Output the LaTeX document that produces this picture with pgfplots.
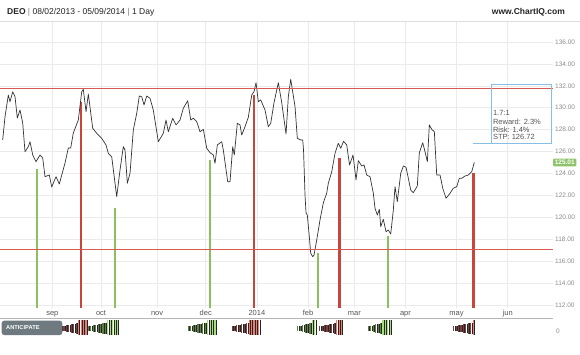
\documentclass[border=0pt]{standalone}
\usepackage{pgfplots}
\pgfplotsset{compat=1.18}
\usepackage{pgfplotstable}
\usepackage{fontspec}
\setmainfont{Liberation Sans}

\definecolor{pricec}{HTML}{333333}
\definecolor{gridc}{HTML}{EBEBEB}
\definecolor{hred}{HTML}{DA5A52}
\definecolor{vred}{HTML}{C8453C}
\definecolor{vgreen}{HTML}{8CBF5F}
\definecolor{boxc}{HTML}{88BEE2}
\definecolor{labc}{HTML}{8A8A8A}
\definecolor{monthc}{HTML}{555555}
\definecolor{pricelab}{HTML}{8DC46A}
\definecolor{btnc}{HTML}{6E7A80}
\definecolor{sepc}{HTML}{B5B5B5}
\definecolor{topc}{HTML}{DDDDDD}
\definecolor{rdark}{HTML}{7A4040}
\definecolor{rlight}{HTML}{F07A70}
\definecolor{gdark}{HTML}{5E7F48}
\definecolor{glight}{HTML}{A6E07C}
\definecolor{titlec}{HTML}{222222}

\pgfplotstableread{
x b l
25 23.30 4.50
26 22.75 5.58
27 22.20 6.67
28 21.65 7.75
29 21.10 8.83
30 20.55 9.92
31 20.00 11.00
95 23.30 4.50
96 22.75 5.58
97 22.20 6.67
98 21.65 7.75
99 21.10 8.83
100 20.55 9.92
101 20.00 11.00
131 23.30 4.50
132 22.75 5.58
133 22.20 6.67
134 21.65 7.75
135 21.10 8.83
136 20.55 9.92
137 20.00 11.00
186 23.30 4.50
187 22.83 5.43
188 22.36 6.36
189 21.89 7.29
190 21.41 8.21
191 20.94 9.14
192 20.47 10.07
193 20.00 11.00
}\redDark

\pgfplotstableread{
x b l
32 19 15
33 19 15
34 19 15
35 19 15
102 19 15
103 19 15
104 19 15
105 19 15
106 19 15
138 19 15
139 19 15
140 19 15
194 19 15
}\redLight

\pgfplotstableread{
x b l
36 23.30 4.50
37 22.83 5.43
38 22.36 6.36
39 21.89 7.29
40 21.41 8.21
41 20.94 9.14
42 20.47 10.07
43 20.00 11.00
77 23.30 4.50
78 22.83 5.43
79 22.36 6.36
80 21.89 7.29
81 21.41 8.21
82 20.94 9.14
83 20.47 10.07
84 20.00 11.00
122 23.30 4.50
123 22.64 5.80
124 21.98 7.10
125 21.32 8.40
126 20.66 9.70
127 20.00 11.00
151 23.30 4.50
152 22.64 5.80
153 21.98 7.10
154 21.32 8.40
155 20.66 9.70
156 20.00 11.00
}\greenDark

\pgfplotstableread{
x b l
44 19 15
45 19 15
46 19 15
47 19 15
48 19 15
85 19 15
86 19 15
87 19 15
88 19 15
128 19 15
129 19 15
157 19 15
158 19 15
159 19 15
160 19 15
}\greenLight

\begin{document}
\begin{tikzpicture}[x=1pt,y=1pt]
\useasboundingbox (0,0) rectangle (580,354);

% header
\node[anchor=base west, inner sep=0pt, font=\fontsize{8.5}{10}\selectfont, text=titlec] at (7,339)
  {\textbf{DEO} {\color{gray}|} 08/02/2013 - 05/09/2014 {\color{gray}|} 1 Day};
\node[anchor=base east, inner sep=0pt, font=\fontsize{8.5}{10}\selectfont\bfseries, text=titlec] at (565,339)
  {www.ChartIQ.com};

\begin{axis}[
  at={(0pt,332.5pt)}, anchor=north west, scale only axis,
  width=553pt, height=286.5pt,
  xmin=-0.5, xmax=226.6, ymin=111.725, ymax=137.87,
  axis line style={draw=none}, major tick length=0pt,
  clip mode=individual,
  grid=major, grid style={gridc, line width=0.6pt},
  xtick={21,41,64,84,105,126,145,166,187,208},
  xticklabels={sep,oct,nov,dec,2014,feb,mar,apr,may,jun},
  xticklabel style={font=\fontsize{7.5}{8}\selectfont, text=monthc, anchor=base, inner sep=0pt, yshift=-7.7pt},
  ytick={112,114,116,118,120,122,124,126,128,130,132,134,136},
  yticklabel pos=right,
  yticklabel style={font=\fontsize{6.5}{7}\selectfont, text=labc, anchor=west, inner sep=0pt, xshift=2pt,
    /pgf/number format/.cd, fixed, fixed zerofill, precision=2, assume math mode=true},
]
% signal bars
\addplot[vgreen, line width=2.2pt, ycomb] coordinates {
 (14.58,124.38) (46.73,120.82) (85.75,125.23) (129.98,116.72) (158.97,118.30)};
\addplot[vred, line width=2.4pt, ycomb] coordinates {
 (32.65,130.55) (103.82,131.16) (138.85,125.44) (193.88,124.02)};
% price
\addplot[pricec, line width=0.7pt, line join=round] coordinates {
(0.6,127.06)(1.56,129.18)(2.92,131.16)(3.61,130.55)(4.72,131.46)(5.67,131.01)(6.61,129.06)(7.72,129.79)(8.83,128.61)(9.77,125.99)(11.13,126.45)(11.83,126.90)(12.94,125.69)(14.29,125.08)(15.93,125.69)(17.04,125.41)(17.99,123.71)(19.75,123.86)(20.74,122.77)(22.51,123.71)(23.86,123.04)(26.20,124.96)(27.56,126.33)(28.54,126.33)(29.61,127.70)(31.66,128.88)(33.06,131.46)(33.72,131.68)(34.83,129.64)(35.77,131.25)(37.58,128.12)(39.22,127.67)(41.27,127.21)(43.04,126.60)(43.98,125.84)(45.38,125.53)(47.43,121.88)(48.79,124.32)(50.14,126.45)(50.84,126.14)(51.79,123.11)(52.90,124.02)(54.25,127.97)(55.65,129.49)(56.71,131.07)(57.70,131.01)(58.64,130.25)(59.75,131.07)(61.11,130.86)(62.46,129.79)(64.52,126.90)(66.57,127.67)(67.68,128.88)(68.62,127.81)(70.43,129.04)(71.79,128.43)(73.43,128.88)(74.78,129.95)(76.59,130.64)(77.82,128.88)(78.89,129.04)(80.29,128.73)(81.64,127.81)(83.00,128.03)(84.39,126.30)(85.75,125.90)(87.10,125.69)(87.80,124.93)(88.75,126.60)(90.55,126.90)(91.21,126.14)(93.02,123.25)(93.96,123.25)(95.07,126.45)(95.73,125.69)(96.96,128.58)(98.07,128.43)(98.77,127.51)(100.12,128.27)(101.48,129.13)(102.87,131.16)(103.82,131.46)(104.64,132.29)(105.59,130.55)(106.57,130.71)(108.34,129.79)(109.69,128.27)(110.68,128.58)(112.03,130.46)(112.86,131.32)(113.80,132.29)(115.20,130.46)(116.96,127.60)(117.91,131.01)(118.89,132.60)(120.66,130.10)(121.60,127.21)(123.00,127.06)(123.82,127.06)(124.15,126.14)(124.76,122.04)(125.17,120.40)(125.70,120.21)(126.53,118.23)(127.10,116.72)(127.93,116.41)(128.46,116.56)(129.57,117.93)(130.92,119.76)(132.28,121.31)(133.68,122.22)(134.33,123.11)(135.73,124.16)(137.08,125.84)(138.44,126.76)(139.42,126.30)(140.57,126.94)(141.89,126.60)(143.04,124.78)(144.48,125.69)(145.71,123.41)(146.65,125.17)(148.05,124.68)(149.00,124.78)(150.10,123.86)(151.46,123.71)(152.81,122.19)(153.51,120.82)(154.46,120.21)(155.28,120.73)(155.85,119.15)(156.92,119.82)(158.03,118.69)(158.97,118.84)(159.96,118.48)(161.03,120.67)(161.72,122.80)(162.66,121.43)(164.07,124.02)(165.13,124.68)(166.24,124.57)(167.19,123.56)(168.17,122.49)(169.24,122.25)(170.88,122.86)(171.70,125.90)(173.10,126.81)(174.04,125.99)(175.00,125.08)(175.81,128.43)(176.80,128.03)(177.87,127.81)(178.85,123.86)(180.21,123.86)(181.31,122.65)(182.67,121.74)(184.31,122.19)(185.67,122.65)(187.06,122.80)(188.13,123.56)(189.12,123.56)(190.47,123.77)(191.83,123.86)(193.22,124.16)(194.29,125.01)};
% horizontal levels
\addplot[hred, line width=1pt] coordinates {(-0.5,131.8) (226.6,131.8)};
\addplot[hred, line width=1pt] coordinates {(-0.5,117.1) (226.6,117.1)};
% reward/risk box
\draw[boxc, line width=0.8pt] (axis cs:193.8,126.72) -- (axis cs:225.8,126.72) -- (axis cs:225.8,132.14)
   -- (axis cs:201.2,132.14) -- (axis cs:201.2,126.72);
\node[anchor=west, inner sep=0pt, font=\fontsize{7.5}{8}\selectfont, text=monthc] at (axis cs:201.9,129.49) {1.7:1};
\node[anchor=west, inner sep=0pt, font=\fontsize{7.5}{8}\selectfont, text=monthc] at (axis cs:201.9,128.73) {Reward: 2.3\%};
\node[anchor=west, inner sep=0pt, font=\fontsize{7.5}{8}\selectfont, text=monthc] at (axis cs:201.9,128.03) {Risk: 1.4\%};
\node[anchor=west, inner sep=0pt, font=\fontsize{7.5}{8}\selectfont, text=monthc] at (axis cs:201.9,127.36) {STP: 126.72};
% last price label
\node[anchor=west, fill=pricelab, text=white, rounded corners=1pt, inner xsep=1.6pt, inner ysep=1.6pt,
  font=\fontsize{6.5}{7}\selectfont\bfseries] at (axis cs:226.6,125.01) {125.01};
\end{axis}
\draw[topc, line width=0.6pt] (0,332.5) -- (580,332.5);

% bottom panel
\begin{axis}[
  at={(0pt,0pt)}, anchor=south west, scale only axis,
  width=553pt, height=36pt,
  xmin=-0.5, xmax=226.6, ymin=0, ymax=36,
  hide axis, clip=false,
]
\addplot[rdark, line width=1.1pt, quiver={u=0, v=\thisrow{l}}] table[x expr=\thisrow{x}-0.2, y=b] {\redDark};
\addplot[black!85, line width=0.6pt, quiver={u=0, v=\thisrow{l}}] table[x expr=\thisrow{x}+0.27, y=b] {\redDark};
\addplot[rlight, line width=1.1pt, quiver={u=0, v=\thisrow{l}}] table[x expr=\thisrow{x}-0.2, y=b] {\redLight};
\addplot[black!85, line width=0.6pt, quiver={u=0, v=\thisrow{l}}] table[x expr=\thisrow{x}+0.27, y=b] {\redLight};
\addplot[gdark, line width=1.1pt, quiver={u=0, v=\thisrow{l}}] table[x expr=\thisrow{x}-0.2, y=b] {\greenDark};
\addplot[black!85, line width=0.6pt, quiver={u=0, v=\thisrow{l}}] table[x expr=\thisrow{x}+0.27, y=b] {\greenDark};
\addplot[glight, line width=1.1pt, quiver={u=0, v=\thisrow{l}}] table[x expr=\thisrow{x}-0.2, y=b] {\greenLight};
\addplot[black!85, line width=0.6pt, quiver={u=0, v=\thisrow{l}}] table[x expr=\thisrow{x}+0.27, y=b] {\greenLight};
\end{axis}

\draw[sepc, line width=0.6pt] (0,36) -- (553,36);
\fill[btnc, rounded corners=2.5pt] (1.7,19) rectangle (62.3,33.3);
\node[anchor=west, inner sep=0pt, text=white, font=\fontsize{5.7}{6}\selectfont\bfseries] at (6,26.2) {ANTICIPATE};
\node[anchor=west, inner sep=0pt, text=labc, font=\fontsize{6.5}{7}\selectfont] at (556,23) {0};
\end{tikzpicture}
\end{document}
